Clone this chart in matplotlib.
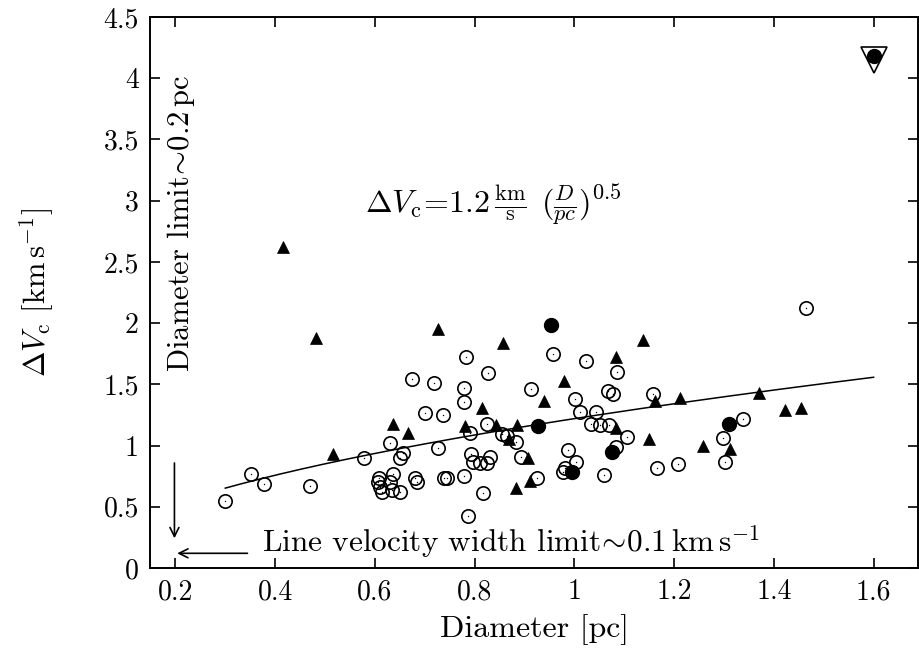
import matplotlib
matplotlib.use("Agg")
import matplotlib.pyplot as plt
import numpy as np

plt.rcParams['font.family'] = 'serif'
plt.rcParams['font.serif'] = ['cmr10']
plt.rcParams['mathtext.fontset'] = 'cm'
plt.rcParams['mathtext.default'] = 'it'
plt.rcParams['axes.formatter.use_mathtext'] = True
plt.rcParams['axes.unicode_minus'] = False

# ---- data ----
open_x = [0.299, 0.351, 0.378, 0.470, 0.579, 0.630, 0.656, 0.650, 0.609, 0.636,
          0.630, 0.610, 0.614, 0.634, 0.650, 0.606, 0.680, 0.684, 0.700, 0.736,
          0.824, 0.791, 0.726, 0.854, 0.864, 0.883, 0.793, 0.830, 0.796, 0.811,
          0.824, 0.893, 0.739, 0.744, 0.779, 0.816, 0.787, 0.925, 0.987, 1.003,
          0.981, 0.978, 1.060, 1.033, 1.052, 1.070, 1.083, 1.105, 1.011, 1.043,
          0.674, 0.719, 0.783, 0.827, 0.779, 0.779, 0.958, 1.023, 1.085, 0.913,
          1.001, 1.068, 1.077, 1.464, 1.158, 1.338, 1.165, 1.207, 1.298, 1.302]
open_y = [0.547, 0.768, 0.686, 0.670, 0.900, 1.020, 0.937, 0.900, 0.733, 0.768,
          0.705, 0.659, 0.623, 0.637, 0.623, 0.705, 0.733, 0.705, 1.264, 1.250,
          1.180, 1.105, 0.983, 1.095, 1.078, 1.027, 0.929, 0.910, 0.869, 0.855,
          0.855, 0.910, 0.733, 0.733, 0.752, 0.610, 0.425, 0.733, 0.964, 0.864,
          0.815, 0.782, 0.760, 1.174, 1.168, 1.168, 0.986, 1.073, 1.277, 1.277,
          1.544, 1.509, 1.726, 1.596, 1.473, 1.359, 1.748, 1.691, 1.604, 1.460,
          1.381, 1.446, 1.422, 2.120, 1.420, 1.220, 0.820, 0.850, 1.065, 0.869]

tri_x = [0.416, 0.481, 0.516, 0.636, 0.666, 0.726, 0.857, 0.979, 1.084, 0.939,
         0.815, 0.781, 0.842, 0.885, 0.869, 0.907, 0.883, 0.911, 1.084, 1.137,
         1.162, 1.212, 1.370, 1.422, 1.454, 1.149, 1.258, 1.312]
tri_y = [2.62, 1.877, 0.93, 1.18, 1.10, 1.95, 1.84, 1.53, 1.72, 1.36,
         1.31, 1.16, 1.17, 1.17, 1.05, 0.90, 0.65, 0.71, 1.14, 1.86,
         1.36, 1.39, 1.43, 1.29, 1.31, 1.05, 1.00, 0.97]

fill_x = [0.953, 0.927, 1.075, 0.996, 1.311, 1.600]
fill_y = [1.985, 1.16, 0.95, 0.78, 1.18, 4.18]

limit_x = [1.600]
limit_y = [4.15]

# fitted relation curve parameters
fit_coef = 1.22
fit_expo = 0.52
fit_range = [0.30, 1.60]

xticks = [0.2, 0.4, 0.6, 0.8, 1.0, 1.2, 1.4, 1.6]
xticklabels = ['0.2', '0.4', '0.6', '0.8', '1', '1.2', '1.4', '1.6']
yticks = [0, 0.5, 1, 1.5, 2, 2.5, 3, 3.5, 4, 4.5]
yticklabels = ['0', '0.5', '1', '1.5', '2', '2.5', '3', '3.5', '4', '4.5']

# ---- figure ----
fig = plt.figure(figsize=(9.19, 6.64), dpi=100)
ax = fig.add_axes([150/919, 1-568/664, 768/919, 551/664])

# open circles with central dot
ax.plot(open_x, open_y, 'o', ms=9.6, mfc='none', mec='black', mew=1.2, ls='none', zorder=3)
ax.plot(open_x, open_y, 'o', ms=1.0, mfc='black', mec='none', ls='none', zorder=3)
# filled triangles
ax.plot(tri_x, tri_y, '^', ms=9.0, mfc='black', mec='black', mew=0.5, ls='none', zorder=4)
# filled circles
ax.plot(fill_x, fill_y, 'o', ms=10, mfc='black', mec='black', ls='none', zorder=5)
# upper-limit symbol
ax.plot(limit_x, limit_y, 'v', ms=19, mfc='none', mec='black', mew=1.2, ls='none', zorder=4)

# fit curve
xx = np.linspace(fit_range[0], fit_range[1], 200)
ax.plot(xx, fit_coef * xx ** fit_expo, color='black', lw=1.1, zorder=2)

ax.set_xlim(0.149, 1.689)
ax.set_ylim(0, 4.5)
ax.set_xticks(xticks)
ax.set_xticklabels(xticklabels)
ax.set_yticks(yticks)
ax.set_yticklabels(yticklabels)
ax.tick_params(direction='in', length=7, width=1.2, top=True, right=True,
               labelsize=20, pad=8)
for s in ax.spines.values():
    s.set_linewidth(1.4)

ax.set_xlabel('Diameter [pc]', fontsize=23, labelpad=6)
ax.set_ylabel(r'$\Delta V_{\rm c}$ [km$\,$s$^{-1}$]', fontsize=22, labelpad=34)

# annotations
ax.text(0.58, 2.97,
        r'$\Delta V_{\rm c}\!=\!1.2\,\frac{\rm km}{\rm s}\;\,(\frac{\mathit{D}}{\mathit{pc}})^{0.5}$',
        fontsize=23, ha='left', va='center')
ax.text(0.211, 2.81, r'Diameter limit$\!\sim\!$0.2$\,$pc', rotation=90, fontsize=22,
        ha='center', va='center')
ax.text(0.374, 0.21, r'Line velocity width limit$\!\sim\!$0.1$\,$km$\,$s$^{-1}$',
        fontsize=22.5, ha='left', va='center')
ax.annotate('', xy=(0.198, 0.22), xytext=(0.198, 0.88),
            arrowprops=dict(arrowstyle='->', lw=1.2, color='black', mutation_scale=16))
ax.annotate('', xy=(0.198, 0.12), xytext=(0.35, 0.12),
            arrowprops=dict(arrowstyle='->', lw=1.2, color='black', mutation_scale=16))

fig.savefig('out.png', dpi=100)
